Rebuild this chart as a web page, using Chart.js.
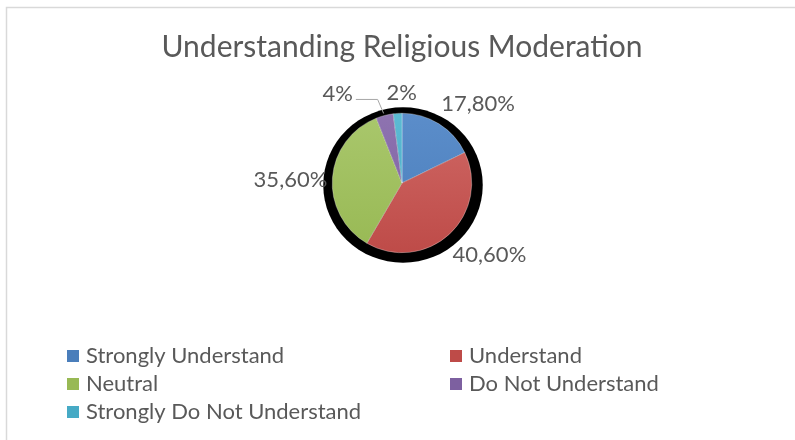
<!DOCTYPE html>
<html>
<head>
<meta charset="utf-8">
<script src="https://cdn.jsdelivr.net/npm/chart.js@4.4.1/dist/chart.umd.min.js"></script>
<style>
    html, body { margin: 0; padding: 0; background: #fff; }
    #wrap { width: 795px; height: 440px; position: relative; }
</style>
</head>
<body>
<div id="wrap"><canvas id="pieChart" width="795" height="440"></canvas></div>
<script>
// Chart data
const chartTitle = 'Understanding Religious Moderation';
const categories = ['Strongly Understand', 'Understand', 'Neutral', 'Do Not Understand', 'Strongly Do Not Understand'];
const shares = [17.8, 40.6, 35.6, 4, 2];
const shareLabels = ['17,80%', '40,60%', '35,60%', '4%', '2%'];

// Office 2007 palette (base, light top of gradient)
const baseColors = ['#4A7EBB', '#BE4B48', '#98B954', '#7D60A0', '#46AAC5'];
const lightColors = ['#5B8DCA', '#D06966', '#A9C76C', '#8E73B0', '#5CBAD3'];

// label nudges from the outer edge of each slice
const labelShift = [[39, -20], [40, 21], [-42, 2], [-47, -22], [4, -20]];

const FONT = 'Lato, "Open Sans", sans-serif';
const TEXT = '#595959';

function sliceFill(ctx) {
    const area = ctx.chart.chartArea;
    if (!area) return baseColors[ctx.dataIndex];
    const g = ctx.chart.ctx.createLinearGradient(0, area.top, 0, area.bottom);
    g.addColorStop(0, lightColors[ctx.dataIndex]);
    g.addColorStop(1, baseColors[ctx.dataIndex]);
    return g;
}

/**
 * Frame, title, shadow blob, labels and legend
 */
const decorPlugin = {
    id: 'decor',
    beforeDatasetsDraw(chart) {
        const ctx = chart.ctx;
        const arc = chart.getDatasetMeta(0).data[0];
        if (!arc) return;
        ctx.save();
        ctx.fillStyle = '#000';
        ctx.beginPath();
        ctx.ellipse(arc.x + 1, arc.y + 2, arc.outerRadius + 10, arc.outerRadius + 8, 0, 0, Math.PI * 2);
        ctx.fill();
        ctx.restore();
    },
    afterDraw(chart) {
        const ctx = chart.ctx;
        ctx.save();

        // chart frame
        ctx.strokeStyle = '#D9D9D9';
        ctx.lineWidth = 1.5;
        ctx.beginPath();
        ctx.moveTo(6.5, 440);
        ctx.lineTo(6.5, 7.5);
        ctx.lineTo(795, 7.5);
        ctx.stroke();

        // title
        ctx.fillStyle = TEXT;
        ctx.font = '30px ' + FONT;
        ctx.textAlign = 'center';
        ctx.textBaseline = 'middle';
        ctx.fillText(chartTitle, 402, 47);

        // data labels
        const arcs = chart.getDatasetMeta(0).data;
        ctx.font = '22px ' + FONT;
        arcs.forEach((a, i) => {
            const mid = (a.startAngle + a.endAngle) / 2;
            const ex = a.x + Math.cos(mid) * a.outerRadius;
            const ey = a.y + Math.sin(mid) * a.outerRadius;
            const lx = ex + labelShift[i][0];
            const ly = ey + labelShift[i][1];
            ctx.fillStyle = TEXT;
            ctx.fillText(shareLabels[i], lx, ly);
            if (i === 3) {
                // leader line for the small slice
                const w = ctx.measureText(shareLabels[i]).width;
                ctx.strokeStyle = '#A6A6A6';
                ctx.lineWidth = 1;
                ctx.beginPath();
                ctx.moveTo(lx + w / 2 + 3, ly + 6);
                ctx.lineTo(ex - 7, ly + 6);
                ctx.lineTo(ex - 1, ey - 2);
                ctx.stroke();
            }
        });

        // legend, two columns
        ctx.font = '22px ' + FONT;
        ctx.textAlign = 'left';
        categories.forEach((name, i) => {
            const col = i % 2;
            const row = Math.floor(i / 2);
            const x = col === 0 ? 67 : 450;
            const y = 356 + row * 28;
            ctx.fillStyle = baseColors[i];
            ctx.fillRect(x, y - 6, 12, 12);
            ctx.fillStyle = TEXT;
            ctx.fillText(name, x + 19, y);
        });

        ctx.restore();
    }
};

new Chart(document.getElementById('pieChart'), {
    type: 'pie',
    data: {
        labels: categories,
        datasets: [{
            data: shares,
            backgroundColor: sliceFill,
            borderColor: 'rgba(255,255,255,0.6)',
            borderWidth: 0.5
        }]
    },
    options: {
        responsive: false,
        animation: false,
        layout: { padding: { top: 113, bottom: 187, left: 332, right: 323 } },
        plugins: {
            legend: { display: false },
            tooltip: { enabled: false }
        }
    },
    plugins: [decorPlugin]
});
</script>
</body>
</html>
